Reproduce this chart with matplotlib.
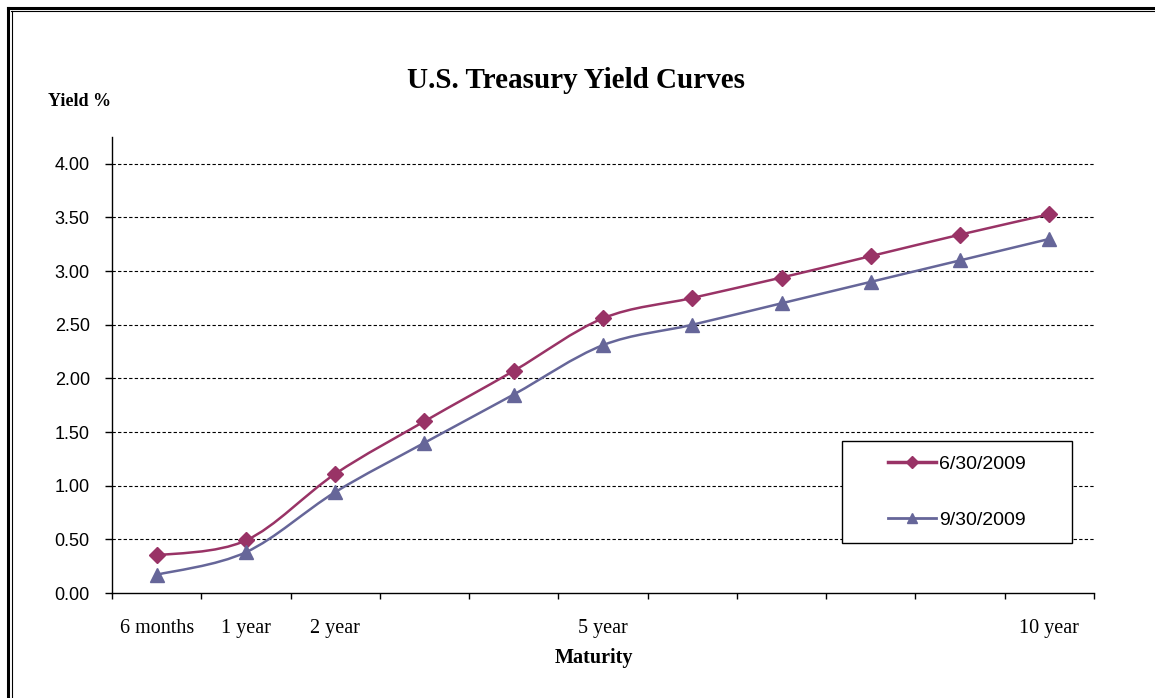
import matplotlib
matplotlib.use("Agg")
import matplotlib.pyplot as plt
from matplotlib.path import Path
from matplotlib.patches import PathPatch, Rectangle
from matplotlib.lines import Line2D

maturities = ["6 months", "1 year", "2 year", "", "", "5 year", "", "", "", "", "10 year"]
yield_jun = [0.35, 0.49, 1.11, 1.60, 2.07, 2.56, 2.75, 2.94, 3.14, 3.34, 3.53]
yield_sep = [0.17, 0.38, 0.94, 1.40, 1.85, 2.31, 2.50, 2.70, 2.90, 3.10, 3.30]
labels = ["6/30/2009", "9/30/2009"]
yticks = [0.0, 0.5, 1.0, 1.5, 2.0, 2.5, 3.0, 3.5, 4.0]

col_jun = "#993366"
col_sep = "#666699"


def smooth_path(xs, ys):
    # Excel-style smoothed line: Catmull-Rom segments as cubic Bezier
    pts = list(zip(xs, ys))
    verts = [pts[0]]
    codes = [Path.MOVETO]
    n = len(pts)
    for i in range(n - 1):
        p0 = pts[i - 1] if i > 0 else pts[i]
        p1 = pts[i]
        p2 = pts[i + 1]
        p3 = pts[i + 2] if i + 2 < n else pts[i + 1]
        c1 = (p1[0] + (p2[0] - p0[0]) / 6, p1[1] + (p2[1] - p0[1]) / 6)
        c2 = (p2[0] - (p3[0] - p1[0]) / 6, p2[1] - (p3[1] - p1[1]) / 6)
        verts += [c1, c2, p2]
        codes += [Path.CURVE4] * 3
    return Path(verts, codes)


fig = plt.figure(figsize=(11.55, 6.98), dpi=100)
ax = fig.add_axes([112 / 1155, 1 - 593 / 698, 982 / 1155, 456 / 698])

x = list(range(len(maturities)))

for vals, col in [(yield_jun, col_jun), (yield_sep, col_sep)]:
    ax.add_patch(PathPatch(smooth_path(x, vals), facecolor="none",
                           edgecolor=col, lw=1.8, zorder=3))

ax.plot(x, yield_jun, linestyle="none", marker="D", ms=8.5, color=col_jun, zorder=4)
ax.plot(x, yield_sep, linestyle="none", marker="^", ms=9.5, color=col_sep, zorder=4)

ax.set_xlim(-0.5, len(maturities) - 0.5)
ax.set_ylim(0, 4.25)

ax.set_yticks(yticks)
ax.set_yticklabels(["%.2f" % v for v in yticks], family="Liberation Sans", fontsize=13)
ax.set_xticks([i - 0.5 for i in range(len(maturities) + 1)])
ax.set_xticklabels([])
ax.set_xticks(x, minor=True)
ax.set_xticklabels(maturities, minor=True, family="Liberation Serif", fontsize=14.5)
ax.tick_params(axis="x", which="major", direction="out", length=4.5, width=1)
ax.tick_params(axis="x", which="minor", length=0, pad=19)
ax.tick_params(axis="y", direction="out", length=5, width=1, pad=11)

for v in yticks[1:]:
    ax.axhline(v, color="black", lw=0.8, linestyle=(0, (3, 2)), zorder=1)

for s in ["top", "right"]:
    ax.spines[s].set_visible(False)
ax.spines["left"].set_linewidth(1)
ax.spines["bottom"].set_linewidth(1)

# legend box
ax.add_patch(Rectangle((0.743, 0.1096), 0.2342, 0.2237, transform=ax.transAxes,
                       facecolor="white", edgecolor="black", lw=1, zorder=5))
h1 = Line2D([], [], color=col_jun, lw=2.5, marker="D", ms=6)
h2 = Line2D([], [], color=col_sep, lw=2, marker="^", ms=7)
leg = ax.legend([h1, h2], labels, loc="center", bbox_to_anchor=(0.8605, 0.2215),
                frameon=False, prop={"family": "Liberation Sans", "size": 14},
                handlelength=2.5, handletextpad=0.15, labelspacing=1.95)
leg.set_zorder(6)

fig.text(576 / 1155, 1 - 80 / 698, "U.S. Treasury Yield Curves", ha="center", va="center",
         family="Liberation Serif", weight="bold", fontsize=21)
fig.text(48 / 1155, 1 - 102 / 698, "Yield %", ha="left", va="center",
         family="Liberation Serif", weight="bold", fontsize=13)
fig.text(594 / 1155, 1 - 658 / 698, "Maturity", ha="center", va="center",
         family="Liberation Serif", weight="bold", fontsize=14.5)

# double border at top and left
fig.add_artist(Line2D([8 / 1155, 1], [1 - 8 / 698, 1 - 8 / 698], color="black", lw=2.2))
fig.add_artist(Line2D([11 / 1155, 1], [1 - 10.8 / 698, 1 - 10.8 / 698], color="black", lw=0.8))
fig.add_artist(Line2D([8 / 1155, 8 / 1155], [0, 1 - 8 / 698], color="black", lw=2.2))
fig.add_artist(Line2D([11.5 / 1155, 11.5 / 1155], [0, 1 - 10.8 / 698], color="black", lw=0.8))

fig.savefig("out.png", dpi=100)
